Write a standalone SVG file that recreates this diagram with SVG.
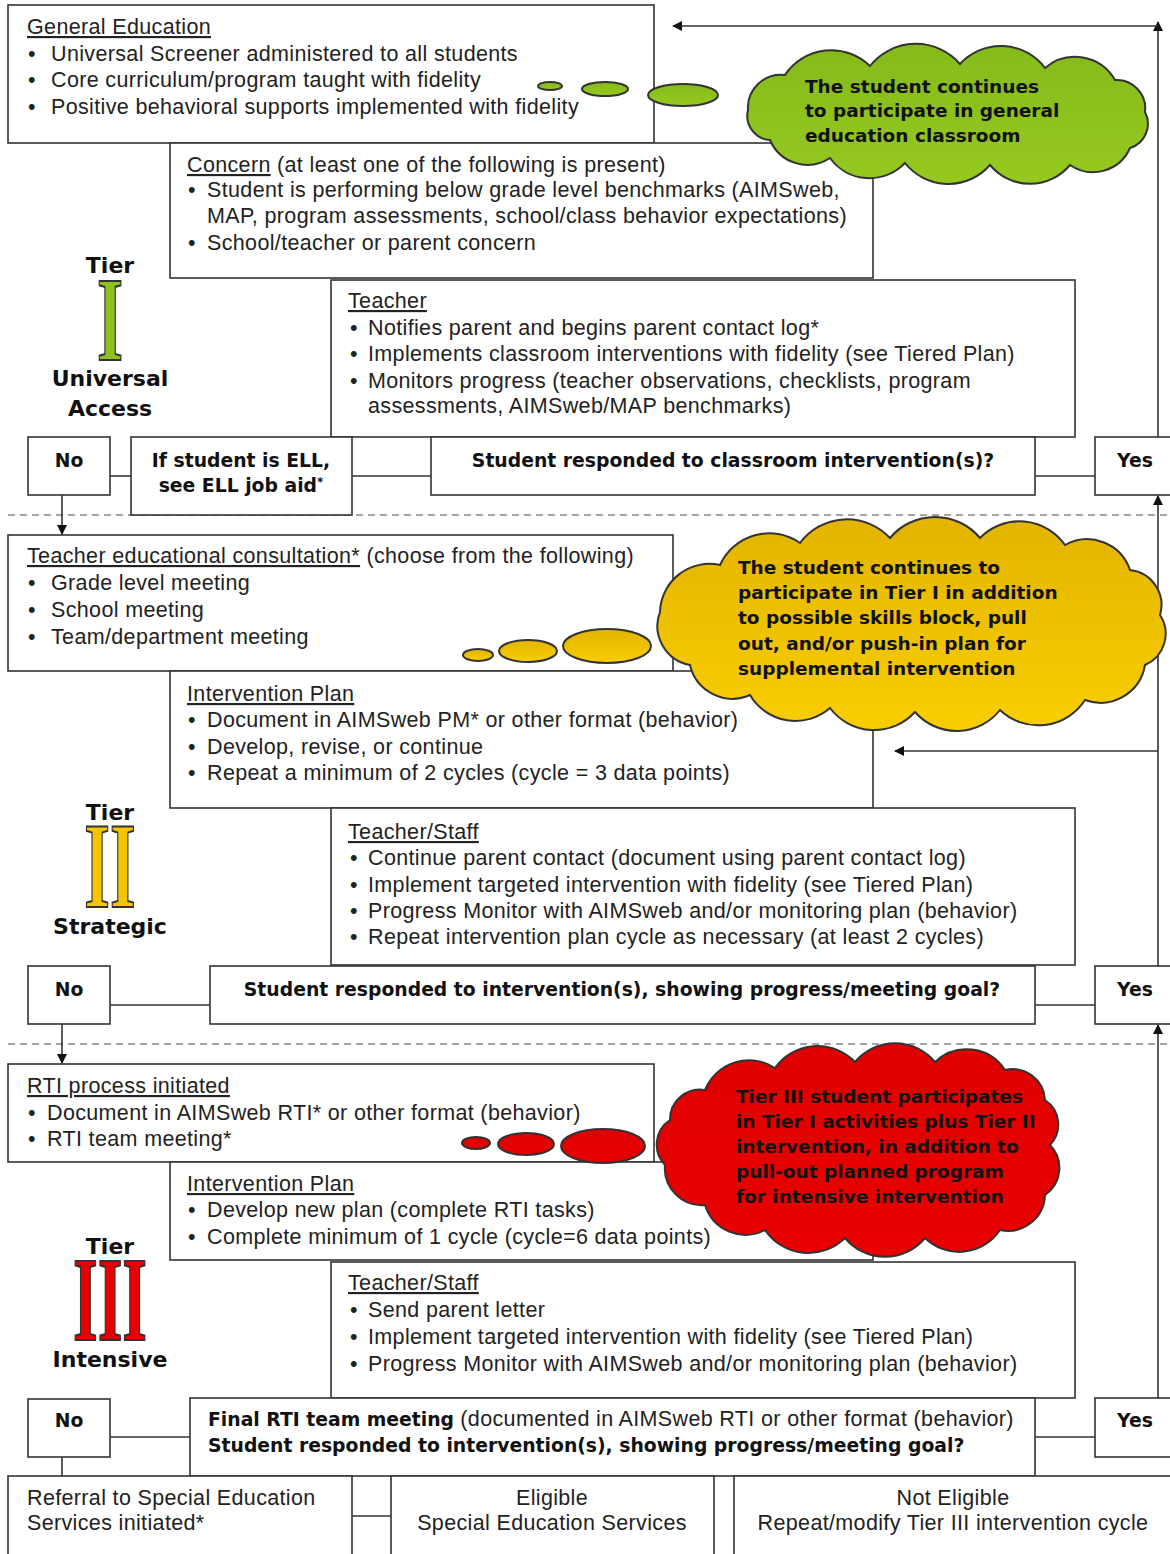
<svg xmlns="http://www.w3.org/2000/svg" width="1170" height="1554" viewBox="0 0 1170 1554">
<style>
.box{fill:#fff;stroke:#333;stroke-width:1.6}
.t{font-family:"Liberation Sans",Arial,sans-serif;font-size:21.5px;letter-spacing:0.35px;fill:#222}
.b{font-family:"DejaVu Sans",Verdana,sans-serif;font-weight:bold;font-size:18.8px;letter-spacing:0;fill:#111}
.cl{font-family:"DejaVu Sans",Verdana,sans-serif;font-weight:bold;font-size:18.5px;fill:#111}
.lbl{font-family:"DejaVu Sans",Verdana,sans-serif;font-weight:bold;font-size:22px;fill:#111;text-anchor:middle}
.mid{text-anchor:middle}
.u{text-decoration:underline}
.ln{stroke:#333;stroke-width:1.6;fill:none}
.dash{stroke:#888;stroke-width:1.6;stroke-dasharray:7 5}
.rn{font-family:"Liberation Serif","Times New Roman",serif;font-weight:bold;font-size:120px;text-anchor:middle;stroke:#333;stroke-width:2}
.cs{stroke:#333;stroke-width:2}
</style>
<defs>
<marker id="ah" viewBox="0 0 10 10" refX="9" refY="5" markerWidth="10" markerHeight="10" markerUnits="userSpaceOnUse" orient="auto">
<path d="M0,0 L10,5 L0,10 z" fill="#111"/>
</marker>
<linearGradient id="gG" x1="0" y1="0" x2="0" y2="1"><stop offset="0" stop-color="#84ba1b"/><stop offset="1" stop-color="#96c91f"/></linearGradient>
<linearGradient id="gY" x1="0" y1="0" x2="0" y2="1"><stop offset="0" stop-color="#e2b400"/><stop offset="1" stop-color="#f9ce00"/></linearGradient>
<linearGradient id="gR" x1="0" y1="0" x2="0" y2="1"><stop offset="0" stop-color="#df0000"/><stop offset="1" stop-color="#e90000"/></linearGradient>
</defs>

<!-- dashed separators -->
<line class="dash" x1="8" y1="515" x2="1170" y2="515"/>
<line class="dash" x1="8" y1="1044" x2="1170" y2="1044"/>

<!-- Tier labels -->
<g id="tier1-label">
<text class="lbl" x="110" y="273">Tier</text>
<text class="rn" transform="translate(110,360) scale(0.56,1)" x="0" y="0" fill="#8dc21f">I</text>
<text class="lbl" x="110" y="386">Universal</text>
<text class="lbl" x="110" y="416">Access</text>
</g>
<g id="tier2-label">
<text class="lbl" x="110" y="820">Tier</text>
<text class="rn" transform="translate(110,907) scale(0.55,1.02)" x="0" y="0" fill="#f5c400">II</text>
<text class="lbl" x="110" y="934">Strategic</text>
</g>
<g id="tier3-label">
<text class="lbl" x="110" y="1254">Tier</text>
<text class="rn" transform="translate(110,1340) scale(0.53,1)" x="0" y="0" fill="#e60000">III</text>
<text class="lbl" x="110" y="1367">Intensive</text>
</g>

<!-- Tier I -->
<g id="general-education">
<rect class="box" x="8" y="5" width="646" height="138"/>
<text class="t" x="27" y="34"><tspan class="u">General Education</tspan></text>
<text class="t" x="28" y="61">•</text><text class="t" x="51" y="61">Universal Screener administered to all students</text>
<text class="t" x="28" y="87">•</text><text class="t" x="51" y="87">Core curriculum/program taught with fidelity</text>
<text class="t" x="28" y="114">•</text><text class="t" x="51" y="114">Positive behavioral supports implemented with fidelity</text>
</g>
<g id="concern">
<rect class="box" x="170" y="143" width="703" height="135"/>
<text class="t" x="187" y="172"><tspan class="u">Concern</tspan> (at least one of the following is present)</text>
<text class="t" x="188" y="197">•</text><text class="t" x="207" y="197">Student is performing below grade level benchmarks (AIMSweb,</text>
<text class="t" x="207" y="223">MAP, program assessments, school/class behavior expectations)</text>
<text class="t" x="188" y="250">•</text><text class="t" x="207" y="250">School/teacher or parent concern</text>
</g>
<g id="teacher">
<rect class="box" x="331" y="280" width="744" height="157"/>
<text class="t" x="348" y="308"><tspan class="u">Teacher</tspan></text>
<text class="t" x="350" y="335">•</text><text class="t" x="368" y="335">Notifies parent and begins parent contact log*</text>
<text class="t" x="350" y="361">•</text><text class="t" x="368" y="361">Implements classroom interventions with fidelity (see Tiered Plan)</text>
<text class="t" x="350" y="388">•</text><text class="t" x="368" y="388">Monitors progress (teacher observations, checklists, program</text>
<text class="t" x="368" y="413">assessments, AIMSweb/MAP benchmarks)</text>
</g>
<g id="no1">
<rect class="box" x="28" y="437" width="82" height="58"/>
<text class="b mid" x="69" y="467">No</text>
</g>
<g id="ell">
<rect class="box" x="131" y="437" width="221" height="78"/>
<text class="b mid" x="241" y="467">If student is ELL,</text>
<text class="b mid" x="241" y="492">see ELL job aid<tspan font-size="12" dy="-6">*</tspan></text>
</g>
<g id="question1">
<rect class="box" x="431" y="437" width="604" height="58"/>
<text class="b mid" x="733" y="467">Student responded to classroom intervention(s)?</text>
</g>
<g id="yes1">
<rect class="box" x="1095" y="437" width="80" height="58"/>
<text class="b mid" x="1135" y="467">Yes</text>
</g>

<!-- Tier II -->
<g id="consultation">
<rect class="box" x="8" y="535" width="665" height="136"/>
<text class="t" x="27" y="563"><tspan class="u">Teacher educational consultation*</tspan> (choose from the following)</text>
<text class="t" x="28" y="590">•</text><text class="t" x="51" y="590">Grade level meeting</text>
<text class="t" x="28" y="617">•</text><text class="t" x="51" y="617">School meeting</text>
<text class="t" x="28" y="644">•</text><text class="t" x="51" y="644">Team/department meeting</text>
</g>
<g id="intervention-plan2">
<rect class="box" x="170" y="671" width="703" height="137"/>
<text class="t" x="187" y="701"><tspan class="u">Intervention Plan</tspan></text>
<text class="t" x="188" y="727">•</text><text class="t" x="207" y="727">Document in AIMSweb PM* or other format (behavior)</text>
<text class="t" x="188" y="754">•</text><text class="t" x="207" y="754">Develop, revise, or continue</text>
<text class="t" x="188" y="780">•</text><text class="t" x="207" y="780">Repeat a minimum of 2 cycles (cycle = 3 data points)</text>
</g>
<g id="teacher-staff2">
<rect class="box" x="331" y="808" width="744" height="157"/>
<text class="t" x="348" y="839"><tspan class="u">Teacher/Staff</tspan></text>
<text class="t" x="350" y="865">•</text><text class="t" x="368" y="865">Continue parent contact (document using parent contact log)</text>
<text class="t" x="350" y="892">•</text><text class="t" x="368" y="892">Implement targeted intervention with fidelity (see Tiered Plan)</text>
<text class="t" x="350" y="918">•</text><text class="t" x="368" y="918">Progress Monitor with AIMSweb and/or monitoring plan (behavior)</text>
<text class="t" x="350" y="944">•</text><text class="t" x="368" y="944">Repeat intervention plan cycle as necessary (at least 2 cycles)</text>
</g>
<g id="no2">
<rect class="box" x="28" y="966" width="82" height="58"/>
<text class="b mid" x="69" y="996">No</text>
</g>
<g id="question2">
<rect class="box" x="210" y="966" width="825" height="58"/>
<text class="b mid" x="622" y="996">Student responded to intervention(s), showing progress/meeting goal?</text>
</g>
<g id="yes2">
<rect class="box" x="1095" y="966" width="80" height="58"/>
<text class="b mid" x="1135" y="996">Yes</text>
</g>

<!-- Tier III -->
<g id="rti-process">
<rect class="box" x="8" y="1064" width="646" height="98"/>
<text class="t" x="27" y="1093"><tspan class="u">RTI process initiated</tspan></text>
<text class="t" x="28" y="1120">•</text><text class="t" x="47" y="1120">Document in AIMSweb RTI* or other format (behavior)</text>
<text class="t" x="28" y="1146">•</text><text class="t" x="47" y="1146">RTI team meeting*</text>
</g>
<g id="intervention-plan3">
<rect class="box" x="170" y="1162" width="703" height="98"/>
<text class="t" x="187" y="1191"><tspan class="u">Intervention Plan</tspan></text>
<text class="t" x="188" y="1217">•</text><text class="t" x="207" y="1217">Develop new plan (complete RTI tasks)</text>
<text class="t" x="188" y="1244">•</text><text class="t" x="207" y="1244">Complete minimum of 1 cycle (cycle=6 data points)</text>
</g>
<g id="teacher-staff3">
<rect class="box" x="331" y="1262" width="744" height="136"/>
<text class="t" x="348" y="1290"><tspan class="u">Teacher/Staff</tspan></text>
<text class="t" x="350" y="1317">•</text><text class="t" x="368" y="1317">Send parent letter</text>
<text class="t" x="350" y="1344">•</text><text class="t" x="368" y="1344">Implement targeted intervention with fidelity (see Tiered Plan)</text>
<text class="t" x="350" y="1371">•</text><text class="t" x="368" y="1371">Progress Monitor with AIMSweb and/or monitoring plan (behavior)</text>
</g>
<g id="no3">
<rect class="box" x="28" y="1399" width="82" height="58"/>
<text class="b mid" x="69" y="1427">No</text>
</g>
<g id="final-meeting">
<rect class="box" x="190" y="1398" width="845" height="78"/>
<text class="t" x="208" y="1426"><tspan class="b">Final RTI team meeting</tspan> (documented in AIMSweb RTI or other format (behavior)</text>
<text class="b" x="208" y="1452">Student responded to intervention(s), showing progress/meeting goal?</text>
</g>
<g id="yes3">
<rect class="box" x="1095" y="1398" width="80" height="59"/>
<text class="b mid" x="1135" y="1427">Yes</text>
</g>
<g id="referral">
<rect class="box" x="8" y="1476" width="344" height="90"/>
<text class="t" x="27" y="1505">Referral to Special Education</text>
<text class="t" x="27" y="1530">Services initiated*</text>
</g>
<g id="eligible">
<rect class="box" x="391" y="1476" width="323" height="90"/>
<text class="t mid" x="552" y="1505">Eligible</text>
<text class="t mid" x="552" y="1530">Special Education Services</text>
</g>
<g id="not-eligible">
<rect class="box" x="734" y="1476" width="445" height="90"/>
<text class="t mid" x="953" y="1505">Not Eligible</text>
<text class="t mid" x="953" y="1530">Repeat/modify Tier III intervention cycle</text>
</g>

<!-- Connectors -->
<g id="connectors">
<line class="ln" x1="110" y1="476" x2="131" y2="476"/>
<line class="ln" x1="352" y1="476" x2="431" y2="476"/>
<line class="ln" x1="1035" y1="476" x2="1095" y2="476"/>
<line class="ln" x1="62" y1="495" x2="62" y2="534" marker-end="url(#ah)"/>
<line class="ln" x1="1158" y1="437" x2="1158" y2="22" marker-end="url(#ah)"/>
<line class="ln" x1="1158" y1="26" x2="673" y2="26" marker-end="url(#ah)"/>

<line class="ln" x1="110" y1="1005" x2="210" y2="1005"/>
<line class="ln" x1="1035" y1="1005" x2="1095" y2="1005"/>
<line class="ln" x1="62" y1="1024" x2="62" y2="1063" marker-end="url(#ah)"/>
<line class="ln" x1="1158" y1="966" x2="1158" y2="496" marker-end="url(#ah)"/>
<line class="ln" x1="1158" y1="751" x2="895" y2="751" marker-end="url(#ah)"/>

<line class="ln" x1="110" y1="1437" x2="190" y2="1437"/>
<line class="ln" x1="1035" y1="1437" x2="1095" y2="1437"/>
<line class="ln" x1="62" y1="1457" x2="62" y2="1476"/>
<line class="ln" x1="1158" y1="1398" x2="1158" y2="1025" marker-end="url(#ah)"/>
<line class="ln" x1="352" y1="1516" x2="391" y2="1516"/>
</g>

<!-- Clouds -->
<g id="cloud-green">
<g fill="url(#gG)" class="cs">
<ellipse cx="550" cy="86" rx="12" ry="4"/>
<ellipse cx="605" cy="89" rx="23" ry="7"/>
<ellipse cx="683" cy="95" rx="35" ry="11"/>
<path d="M785,75 A55.6,55.6 0 0 1 870,66 A58.5,58.5 0 0 1 960,64 A55.3,55.3 0 0 1 1045,68 A46,46 0 0 1 1115,80 A28.5,28.5 0 0 1 1145,112 A25.4,25.4 0 0 1 1130,148 A40.5,40.5 0 0 1 1070,165 A52,52 0 0 1 990,165 A55.3,55.3 0 0 1 905,163 A48.9,48.9 0 0 1 830,158 A40.7,40.7 0 0 1 770,140 A24.2,24.2 0 0 1 748,110 A33,33 0 0 1 785,75 Z"/>
</g>
<text class="cl" x="805" y="93">The student continues</text>
<text class="cl" x="805" y="117">to participate in general</text>
<text class="cl" x="805" y="142">education classroom</text>
</g>

<g id="cloud-yellow">
<g fill="url(#gY)" class="cs">
<ellipse cx="478" cy="655" rx="15" ry="6"/>
<ellipse cx="528" cy="651" rx="29" ry="11"/>
<ellipse cx="607" cy="646" rx="44" ry="17"/>
<path d="M720,565 A54,54 0 0 1 800,543 A58.6,58.6 0 0 1 890,538 A58.5,58.5 0 0 1 980,538 A55.4,55.4 0 0 1 1065,545 A45.3,45.3 0 0 1 1130,570 A35.2,35.2 0 0 1 1160,615 A34,34 0 0 1 1145,665 A45.2,45.2 0 0 1 1085,700 A55.6,55.6 0 0 1 1000,710 A55.3,55.3 0 0 1 915,712 A55.3,55.3 0 0 1 830,708 A52.7,52.7 0 0 1 750,695 A43.6,43.6 0 0 1 690,665 A39.6,39.6 0 0 1 660,612 A49.5,49.5 0 0 1 720,565 Z"/>
</g>
<text class="cl" x="738" y="574">The student continues to</text>
<text class="cl" x="738" y="599">participate in Tier I in addition</text>
<text class="cl" x="738" y="624">to possible skills block, pull</text>
<text class="cl" x="738" y="650">out, and/or push-in plan for</text>
<text class="cl" x="738" y="675">supplemental intervention</text>
</g>

<g id="cloud-red">
<g fill="url(#gR)" class="cs">
<ellipse cx="476" cy="1143" rx="14" ry="6"/>
<ellipse cx="526" cy="1144" rx="28" ry="11"/>
<ellipse cx="603" cy="1146" rx="42" ry="17"/>
<path d="M705,1090 A47.7,47.7 0 0 1 775,1068 A52.1,52.1 0 0 1 855,1062 A52,52 0 0 1 935,1062 A45.8,45.8 0 0 1 1005,1070 A32.5,32.5 0 0 1 1045,1100 A29.4,29.4 0 0 1 1050,1145 A32.7,32.7 0 0 1 1045,1195 A37,37 0 0 1 1000,1230 A49,49 0 0 1 925,1238 A52,52 0 0 1 845,1238 A52.3,52.3 0 0 1 765,1230 A42.3,42.3 0 0 1 705,1205 A36.8,36.8 0 0 1 665,1165 A29.4,29.4 0 0 1 670,1120 A30,30 0 0 1 705,1090 Z"/>
</g>
<text class="cl" x="736" y="1103" fill="#3a0000">Tier III student participates</text>
<text class="cl" x="736" y="1128" fill="#3a0000">in Tier I activities plus Tier II</text>
<text class="cl" x="736" y="1153" fill="#3a0000">intervention, in addition to</text>
<text class="cl" x="736" y="1178" fill="#3a0000">pull-out planned program</text>
<text class="cl" x="736" y="1203" fill="#3a0000">for intensive intervention</text>
</g>
</svg>
